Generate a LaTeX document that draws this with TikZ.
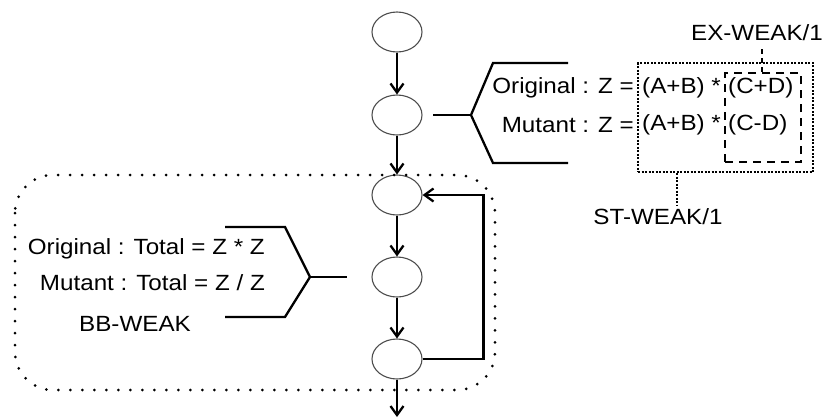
\documentclass[tikz,border=0pt]{standalone}
\usepackage{fontspec}
\setmainfont[FakeStretch=1.1]{Liberation Sans}
\usetikzlibrary{arrows.meta,shapes.geometric}
\begin{document}
\begin{tikzpicture}[x=1pt,y=-1pt,
  state/.style={draw=black!70,line width=1.1pt,ellipse,minimum width=50pt,minimum height=40pt,inner sep=0pt},
  arr/.style={line width=2.3pt,-{Straight Barb[length=9pt,width=13pt,line width=2.3pt]}},
  brace/.style={line width=2.3pt},
  lbl/.style={font=\fontsize{22}{26}\selectfont,inner sep=0pt},
  region/.style={line width=3pt,line cap=round,dash pattern=on 0pt off 12pt,rounded corners=38pt},
  stbox/.style={line width=2pt,dash pattern=on 2pt off 1.5pt},
  exbox/.style={line width=2.2pt,dash pattern=on 8pt off 6pt}]
\useasboundingbox (0,0) rectangle (824,418);

% control-flow nodes
\node[state] (n1) at (397,32) {};
\node[state] (n2) at (397,115) {};
\node[state] (n3) at (397,195) {};
\node[state] (n4) at (397,277) {};
\node[state] (n5) at (397,359) {};
\coordinate (exit) at (397,417);

\draw[arr] (n1) -- (n2);
\draw[arr] (n2) -- (n3);
\draw[arr] (n3) -- (n4);
\draw[arr] (n4) -- (n5);
\draw[arr] (n5) -- (exit);
\draw[arr] (n5.east) -- ++(61,0) |- (n3.east);

% loop region
\draw[region] (15,175) rectangle (495,390);

% statement-level mutation
\coordinate (rb) at (471,115);
\coordinate (rbend) at (433,115);
\draw[brace] (568,63) -- (493,63) -- (rb) -- (493,163) -- (568,163);
\draw[brace] (rb) -- (rbend);

\node[lbl,anchor=east] (o1) at (634,88) {Original : Z =};
\node[lbl,anchor=west] (o2) at (642,88) {(A+B) *};
\node[lbl,anchor=west] (o3) at (728,88) {(C+D)};
\node[lbl,anchor=east] (m1) at (634,125) {Mutant : Z =};
\node[lbl,anchor=west] (m2) at (642,125) {(A+B) *};
\node[lbl,anchor=west] (m3) at (728,125) {(C-D)};

\node[stbox,draw,minimum width=175pt,minimum height=109pt,inner sep=0pt] (st) at (725.5,117.5) {};
\node[exbox,draw,minimum width=76pt,minimum height=89pt,inner sep=0pt] (ex) at (763,117.5) {};

\node[lbl] (exl) at (757,33) {EX-WEAK/1};
\node[lbl] (stl) at (658,217) {ST-WEAK/1};
\draw[exbox,line width=1.8pt,dash pattern=on 5pt off 4pt] (ex.north -| 762,0) -- (762,48);
\draw[stbox] (st.south -| 677,0) -- (677,205);

% block-level mutation
\coordinate (lb) at (310,277);
\coordinate (lbend) at (347,277);
\draw[brace] (225,227) -- (285,227) -- (lb) -- (285,317) -- (225,317);
\draw[brace] (lb) -- (lbend);

\node[lbl,anchor=east] (lo) at (265,249) {Original : Total = Z * Z};
\node[lbl,anchor=east] (lm) at (265,283) {Mutant : Total = Z / Z};
\node[lbl] (bb) at (135,324) {BB-WEAK};
\end{tikzpicture}
\end{document}
